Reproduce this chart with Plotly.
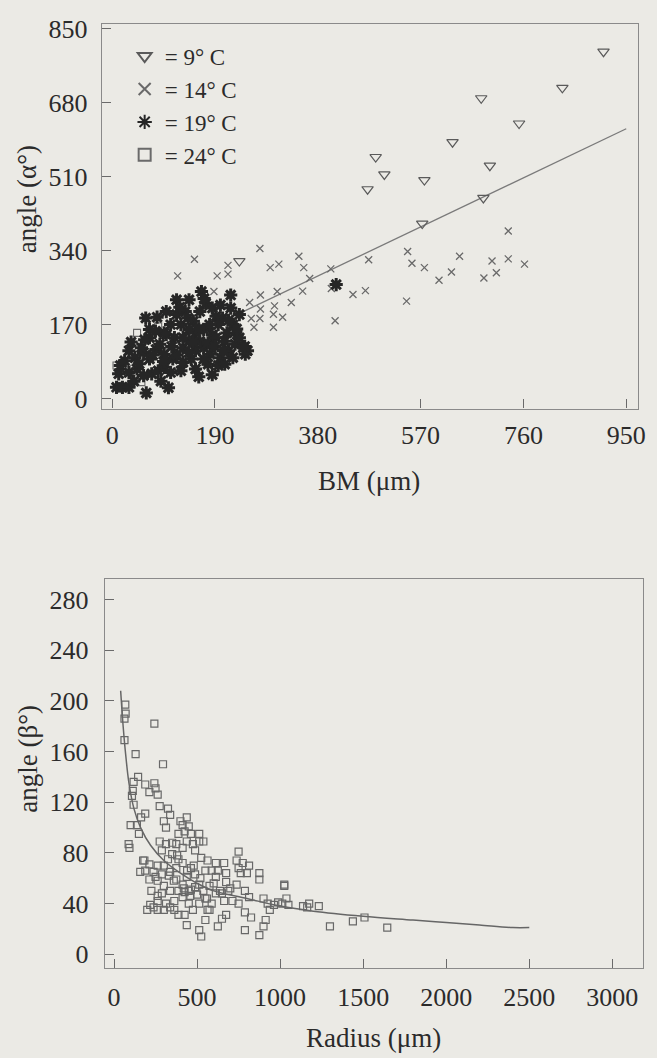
import plotly.graph_objects as go

# ---------------- Top panel: angle (alpha) vs BM ----------------
t9_x = [908, 832, 682, 752, 629, 487, 503, 472, 577, 698, 686, 573, 235]
t9_y = [797, 714, 690, 632, 589, 555, 515, 481, 502, 535, 461, 402, 316]

t14_x = [732, 546, 474, 554, 577, 642, 702, 732, 762, 627, 604, 687, 710, 544, 468, 445,
         412, 404, 405, 365, 354, 345, 352, 331, 308, 292, 305, 300, 298, 298, 315, 273,
         274, 274, 273, 257, 262, 254, 214, 214, 194, 152, 121, 188, 158]
t14_y = [385, 338, 319, 311, 301, 327, 316, 321, 309, 291, 272, 277, 289, 224, 248, 239,
         179, 298, 253, 276, 301, 327, 247, 221, 309, 301, 246, 213, 194, 164, 187, 345,
         238, 206, 184, 184, 164, 221, 306, 286, 282, 320, 282, 246, 60]

t19_x = [8, 19, 31, 63, 104, 15, 12, 31, 46, 58, 73, 85, 96, 108, 127,
         31, 42, 58, 69, 81, 96, 112, 131, 146, 23, 54, 69, 88, 100, 115,
         131, 142, 154, 169, 181, 196, 200, 215, 227, 242, 246, 250, 62, 83, 69,
         96, 108, 119, 119, 142, 135, 150, 162, 165, 173, 185, 192, 204, 219, 219,
         223, 235, 212, 196, 185, 169, 154, 142, 127, 131, 162, 177, 192, 208, 231,
         235, 223, 208, 177, 154, 169, 142, 40, 50, 90, 120, 160, 180, 200, 230,
         140, 100, 80, 60, 110, 150, 190, 215, 170, 125, 35, 75, 95, 185, 205,
         160, 245, 414]
t19_y = [26, 26, 26, 13, 25, 76, 57, 60, 68, 53, 57, 64, 72, 60, 64,
         110, 94, 106, 91, 113, 102, 91, 83, 91, 87, 117, 140, 125, 147, 140,
         117, 132, 110, 117, 102, 76, 94, 110, 125, 117, 102, 110, 185, 187, 159,
         151, 170, 193, 227, 227, 200, 178, 200, 246, 219, 208, 189, 185, 238, 208,
         170, 193, 151, 170, 147, 159, 151, 159, 170, 140, 132, 128, 140, 132, 147,
         140, 94, 79, 79, 68, 91, 106, 40, 80, 40, 100, 50, 170, 215, 160,
         185, 200, 155, 135, 120, 130, 120, 180, 230, 210, 130, 100, 85, 55, 110,
         160, 120, 262]

t24_x = [46, 85, 54, 8, 127]
t24_y = [151, 166, 38, 76, 181]

fit_a_x = [0, 950]
fit_a_y = [56, 620]

# ---------------- Bottom panel: angle (beta) vs Radius ----------------
sq_x = [68, 70, 63, 63, 243, 295, 130, 145, 118, 113, 108, 118, 188, 213, 243, 250, 263, 275,
        188, 163, 138, 100, 88, 93, 150, 183, 158, 188, 218, 200, 175, 213, 225, 263,
        325, 338, 300, 313, 275, 313, 288, 350, 388, 413, 375, 338, 288, 263, 300, 338,
        263, 313, 363, 413, 450, 488, 513, 400, 413, 438, 450, 425, 388, 475, 488, 513,
        525, 463, 488, 438, 450, 475, 513, 525, 438, 550, 563, 588, 613, 575, 613, 625,
        563, 550, 638, 663, 675, 625, 650, 713, 688, 675, 738, 750, 763, 775, 813, 800,
        788, 813, 750, 788, 825, 788, 875, 900, 913, 875, 875, 900, 925, 938, 963, 988,
        1025, 1038, 1050, 1013, 750, 738, 675, 663, 613, 588, 538, 513, 463, 438, 413, 375,
        350, 325, 300, 263, 238, 213, 250, 288, 363, 388, 425, 338, 238, 263, 300, 375,
        413, 463, 388, 425, 500, 538, 550, 513, 575, 1138, 1175, 1233, 1163, 1300, 1438,
        1508, 1645, 1025, 330, 360, 420, 460, 520, 560, 600, 650, 700, 380, 440, 480]
sq_y = [197, 190, 186, 169, 182, 150, 158, 140, 136, 129, 125, 118, 134, 128, 135, 131, 126, 117,
        111, 108, 102, 102, 87, 84, 95, 74, 65, 66, 39, 35, 74, 59, 50, 42,
        115, 110, 105, 100, 89, 87, 82, 79, 75, 72, 68, 65, 63, 58, 54, 50,
        46, 40, 42, 45, 50, 53, 55, 105, 102, 108, 101, 97, 95, 87, 82, 89,
        76, 68, 63, 61, 40, 35, 19, 14, 23, 27, 35, 40, 48, 54, 61, 66,
        74, 66, 50, 42, 31, 22, 28, 42, 50, 57, 55, 68, 64, 72, 70, 64,
        50, 45, 40, 33, 29, 19, 15, 22, 27, 64, 59, 44, 40, 35, 39, 41,
        55, 44, 39, 40, 81, 74, 64, 72, 72, 66, 89, 95, 95, 89, 84, 87,
        88, 75, 70, 70, 65, 71, 61, 48, 35, 31, 31, 37, 37, 35, 35, 59,
        55, 51, 50, 49, 47, 50, 44, 40, 35, 38, 40, 38, 37, 22, 26,
        29, 21, 54, 62, 58, 52, 46, 60, 44, 56, 48, 52, 78, 66, 70]

fit_b_x = [40, 55, 70, 90, 120, 160, 220, 300, 400, 500, 600, 800, 1000, 1200, 1500,
           1800, 2000, 2200, 2400, 2500]
fit_b_y = [208, 180, 158, 135, 115, 100, 86, 74, 64, 56, 50, 44, 38, 34, 30,
           27, 25, 23, 21, 21]

top_xticks = [0, 190, 380, 570, 760, 950]
top_yticks = [0, 170, 340, 510, 680, 850]
bot_xticks = [0, 500, 1000, 1500, 2000, 2500, 3000]
bot_yticks = [0, 40, 80, 120, 160, 200, 240, 280]

FONT = "Liberation Serif"
INK = "#2b2b2b"
BG = "#ebeae5"

fig = go.Figure()

fig.add_trace(go.Scatter(x=fit_a_x, y=fit_a_y, mode="lines", line=dict(color="#7a7a7a", width=1.3),
                         showlegend=False, xaxis="x", yaxis="y", hoverinfo="skip"))
fig.add_trace(go.Scatter(x=t14_x, y=t14_y, mode="markers", name="= 14° C", legendrank=2,
                         marker=dict(symbol="x-thin-open", size=7, line=dict(color="#6a6a6a", width=1.3), color="#6a6a6a"),
                         xaxis="x", yaxis="y"))
fig.add_trace(go.Scatter(x=t24_x, y=t24_y, mode="markers", name="= 24° C", legendrank=4,
                         marker=dict(symbol="square-open", size=7, color="#6a6a6a", line=dict(width=1.1)),
                         xaxis="x", yaxis="y"))
fig.add_trace(go.Scatter(x=t19_x, y=t19_y, mode="markers", name="= 19° C", legendrank=3,
                         marker=dict(symbol="asterisk-open", size=11, color="#262626", line=dict(color="#262626", width=3)),
                         xaxis="x", yaxis="y"))
fig.add_trace(go.Scatter(x=t9_x, y=t9_y, mode="markers", name="= 9° C", legendrank=1,
                         marker=dict(symbol="triangle-down-open", size=10, color="#5a5a5a", line=dict(width=1.2)),
                         xaxis="x", yaxis="y"))

fig.add_trace(go.Scatter(x=sq_x, y=sq_y, mode="markers", showlegend=False,
                         marker=dict(symbol="square-open", size=7, color="#686868", line=dict(width=1.2)),
                         xaxis="x2", yaxis="y2"))
fig.add_trace(go.Scatter(x=fit_b_x, y=fit_b_y, mode="lines", showlegend=False,
                         line=dict(color="#666666", width=1.5, shape="spline"),
                         xaxis="x2", yaxis="y2", hoverinfo="skip"))

axis_common = dict(showgrid=False, zeroline=False, showline=True, mirror=True,
                   linecolor="#8a8a8a", linewidth=1.3, ticks="inside", ticklen=9,
                   tickcolor="#6a6a6a", tickwidth=1.2,
                   tickfont=dict(family=FONT, size=26, color=INK))

title_font = dict(family=FONT, size=27, color=INK)

fig.update_layout(
    width=657, height=1058,
    margin=dict(l=0, r=0, t=0, b=0),
    paper_bgcolor=BG, plot_bgcolor=BG,
    font=dict(family=FONT, color=INK),
    xaxis=dict(axis_common, domain=[103/657, 645/657], range=[-19, 972],
               tickvals=top_xticks, ticklabelstandoff=3, anchor="y"),
    yaxis=dict(axis_common, domain=[1-405/1058, 1-15/1058], range=[-23, 861],
               tickvals=top_yticks, ticklabelstandoff=8, anchor="x"),
    xaxis2=dict(axis_common, domain=[106/657, 650/657], range=[-55, 3185],
                tickvals=bot_xticks, ticklabelstandoff=6, anchor="y2"),
    yaxis2=dict(axis_common, domain=[1-972/1058, 1-578/1058], range=[-11, 296],
                tickvals=bot_yticks, ticklabelstandoff=10, anchor="x2"),
    legend=dict(x=126/657, y=1-26/1058, xanchor="left", yanchor="top",
                bgcolor="rgba(0,0,0,0)", font=dict(family=FONT, size=23, color=INK),
                itemsizing="constant", tracegroupgap=0),
    showlegend=True,
    annotations=[
        dict(text="angle (α°)", x=28/657, y=1-193/1058, xref="paper", yref="paper",
             xanchor="center", yanchor="middle",
             textangle=-90, showarrow=False, font=title_font),
        dict(text="BM (μm)", x=373/657, y=1-478/1058, xref="paper", yref="paper",
             xanchor="center", yanchor="middle", showarrow=False, font=title_font),
        dict(text="angle (β°)", x=28/657, y=1-760/1058, xref="paper", yref="paper",
             xanchor="center", yanchor="middle",
             textangle=-90, showarrow=False, font=title_font),
        dict(text="Radius (μm)", x=378/657, y=1-1043/1058, xref="paper", yref="paper",
             xanchor="center", yanchor="middle", showarrow=False, font=title_font),
    ],
)

fig.write_html("out.html", config={"displayModeBar": False},
               post_script="document.body.style.margin='0';document.body.style.overflow='hidden';")
